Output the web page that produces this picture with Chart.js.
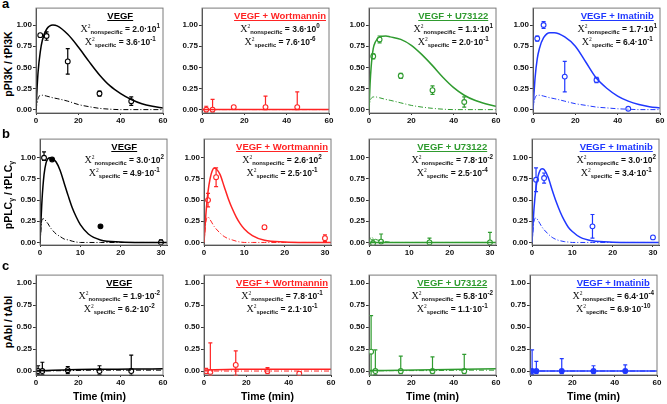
<!DOCTYPE html>
<html>
<head>
<meta charset="utf-8">
<script src="https://cdn.jsdelivr.net/npm/chart.js@4"></script>
<style>
    body { margin: 0; width: 667px; height: 404px; background: #fff; position: relative; overflow: hidden; font-family: "Liberation Sans", Arial, sans-serif; }
    canvas { position: absolute; }
    .letter { position: absolute; font: bold 13px/13px "Liberation Sans", Arial, sans-serif; color: #000; }
    .ytitle { position: absolute; font: bold 10.5px/12px "Liberation Sans", Arial, sans-serif; white-space: nowrap; transform: translate(-50%, -50%) rotate(-90deg); }
    .ytitle sub { font-size: 7px; line-height: 1; vertical-align: -2px; }
    .xtitle { position: absolute; font: bold 10.5px/12px "Liberation Sans", Arial, sans-serif; white-space: nowrap; transform: translate(-50%, -50%); }
    .note { position: absolute; text-align: center; font: bold 8.5px/13.5px "Liberation Sans", Arial, sans-serif; white-space: nowrap; color: #111; }
    .note .ttl { font-size: 9.5px; text-decoration: underline; }
    .note .x { font-family: "Liberation Serif", serif; font-weight: normal; font-size: 10px; line-height: 1; }
    .note .two { font-family: "Liberation Serif", serif; font-weight: normal; font-size: 5.5px; line-height: 1; vertical-align: 4px; }
    .note .sub { font-size: 5.8px; line-height: 1; vertical-align: -2px; }
    .note .sup { font-size: 6.3px; line-height: 1; vertical-align: 4px; }
</style>
</head>
<body>
<script>
const TREATMENTS = ['VEGF', 'VEGF + Wortmannin', 'VEGF + U73122', 'VEGF + Imatinib']
const COLORS = ['#000000', '#ff2424', '#2f9b2f', '#2038ff']

// sampling times (min)
const TIME_PI3K = [2, 5, 15, 30, 45]
const TIME_PLC = [1, 3, 15, 30]
const TIME_ABL = [1, 3, 15, 30, 45]

// times the model curves were read at
const CURVE_T_PI3K = [0, 0.5, 1, 2, 3, 5, 8, 10, 15, 20, 25, 30, 35, 40, 45, 50, 55, 60]
const CURVE_T_PLC = [0, 0.5, 1, 1.5, 2, 2.5, 3, 4, 5, 6, 7, 8, 9, 10, 12, 15, 20, 25, 31.5]
const CURVE_T_ABL = [0, 15, 30, 45, 60]

// a: pPI3K / tPI3K
const PI3K_MEAN = [
    [0.88, 0.87, 0.57, 0.19, 0.10],
    [0.00, 0.00, 0.03, 0.03, 0.03],
    [0.63, 0.83, 0.40, 0.23, 0.09],
    [0.84, 1.00, 0.39, 0.35, 0.01]
]
const PI3K_ERR_UP = [
    [0.01, 0.05, 0.15, 0.03, 0.05],
    [0.04, 0.12, 0.01, 0.13, 0.18],
    [0.03, 0.04, 0.03, 0.05, 0.06],
    [0.03, 0.04, 0.18, 0.03, 0.01]
]
const PI3K_ERR_DN = [
    [0.01, 0.05, 0.15, 0.03, 0.05],
    [0.03, 0.03, 0.01, 0.03, 0.03],
    [0.03, 0.04, 0.03, 0.05, 0.06],
    [0.03, 0.04, 0.18, 0.03, 0.01]
]
const PI3K_FIT = [
    [0, 0.25, 0.45, 0.68, 0.82, 0.95, 1.0, 0.99, 0.89, 0.74, 0.57, 0.41, 0.28, 0.19, 0.12, 0.07, 0.04, 0.02],
    [0, 0, 0, 0, 0, 0, 0, 0, 0, 0, 0, 0, 0, 0, 0, 0, 0, 0],
    [0, 0.3, 0.5, 0.72, 0.8, 0.86, 0.87, 0.86, 0.83, 0.76, 0.65, 0.52, 0.38, 0.26, 0.17, 0.11, 0.07, 0.04],
    [0, 0.2, 0.38, 0.6, 0.72, 0.85, 0.91, 0.91, 0.86, 0.75, 0.56, 0.37, 0.25, 0.16, 0.1, 0.06, 0.035, 0.02]
]
const PI3K_SPEC = [
    [0, 0.08, 0.13, 0.17, 0.17, 0.16, 0.14, 0.13, 0.1, 0.06, 0.035, 0.015, 0.005, 0, 0, 0, 0, 0],
    [0, 0, 0, 0, 0, 0, 0, 0, 0, 0, 0, 0, 0, 0, 0, 0, 0, 0],
    [0, 0.1, 0.13, 0.15, 0.15, 0.14, 0.12, 0.11, 0.08, 0.05, 0.03, 0.015, 0.005, 0, 0, 0, 0, 0],
    [0, 0.09, 0.14, 0.17, 0.17, 0.16, 0.14, 0.13, 0.1, 0.07, 0.05, 0.03, 0.02, 0.01, 0.005, 0, 0, 0]
]
const PI3K_CHI_N = [['2.0', '1'], ['3.6', '0'], ['1.1', '1'], ['1.7', '1']]
const PI3K_CHI_S = [['3.6', '-1'], ['7.6', '-6'], ['2.0', '-1'], ['6.4', '-1']]

// b: pPLCγ / tPLCγ
const PLC_MEAN = [
    [1.00, 0.98, 0.19, 0.00],
    [0.50, 0.77, 0.18, 0.05],
    [-0.01, 0.01, 0.00, 0.00],
    [0.74, 0.76, 0.19, 0.06]
]
const PLC_ERR_UP = [
    [0.07, 0.01, 0.01, 0.03],
    [0.08, 0.11, 0.02, 0.04],
    [0.04, 0.09, 0.05, 0.12],
    [0.14, 0.06, 0.14, 0.02]
]
const PLC_ERR_DN = [
    [0.03, 0.01, 0.01, 0.01],
    [0.08, 0.11, 0.02, 0.04],
    [0.02, 0.02, 0.03, 0.02],
    [0.14, 0.06, 0.14, 0.02]
]
const PLC_FIT = [
    [0, 0.5, 0.8, 0.94, 0.99, 1.0, 0.99, 0.95, 0.85, 0.7, 0.55, 0.41, 0.3, 0.21, 0.1, 0.03, 0.005, 0, 0],
    [0, 0.35, 0.6, 0.75, 0.84, 0.88, 0.87, 0.8, 0.66, 0.52, 0.4, 0.3, 0.22, 0.16, 0.08, 0.025, 0.005, 0, 0],
    [0, 0, 0, 0, 0, 0, 0, 0, 0, 0, 0, 0, 0, 0, 0, 0, 0, 0, 0],
    [0, 0.4, 0.65, 0.78, 0.85, 0.87, 0.86, 0.77, 0.62, 0.48, 0.36, 0.26, 0.18, 0.13, 0.06, 0.02, 0.003, 0, 0]
]
const PLC_SPEC = [
    [0, 0.27, 0.28, 0.25, 0.22, 0.18, 0.15, 0.1, 0.07, 0.04, 0.03, 0.015, 0.005, 0, 0, 0, 0, 0, 0],
    [0, 0.25, 0.3, 0.27, 0.23, 0.19, 0.16, 0.11, 0.07, 0.045, 0.03, 0.015, 0.005, 0, 0, 0, 0, 0, 0],
    [0, 0.06, 0.05, 0.04, 0.03, 0.025, 0.02, 0.01, 0.005, 0, 0, 0, 0, 0, 0, 0, 0, 0, 0],
    [0, 0.25, 0.29, 0.26, 0.22, 0.18, 0.15, 0.1, 0.06, 0.035, 0.02, 0.01, 0.005, 0, 0, 0, 0, 0, 0]
]
const PLC_CHI_N = [['3.0', '2'], ['2.6', '2'], ['7.8', '-2'], ['3.0', '2']]
const PLC_CHI_S = [['4.9', '-1'], ['2.5', '-1'], ['2.5', '-4'], ['3.4', '-1']]

// c: pAbl / tAbl
const ABL_MEAN = [
    [0.00, 0.00, 0.01, 0.00, 0.00],
    [0.00, -0.01, 0.07, 0.00, -0.03],
    [0.22, 0.00, 0.00, 0.00, 0.00],
    [0.00, 0.00, 0.00, 0.00, 0.00]
]
const ABL_ERR_UP = [
    [0.06, 0.10, 0.04, 0.06, 0.18],
    [0.03, 0.33, 0.16, 0.04, 0.02],
    [0.41, 0.24, 0.17, 0.16, 0.19],
    [0.24, 0.11, 0.14, 0.06, 0.07]
]
const ABL_ERR_DN = [
    [0.04, 0.04, 0.04, 0.04, 0.05],
    [0.03, 0.04, 0.12, 0.03, 0.02],
    [0.27, 0.04, 0.03, 0.03, 0.03],
    [0.04, 0.03, 0.03, 0.03, 0.02]
]
const ABL_FIT = [
    [0, 0.015, 0.02, 0.022, 0.025],
    [0.01, 0.02, 0.02, 0.02, 0.02],
    [0.005, 0.01, 0.015, 0.02, 0.025],
    [0, 0, 0, 0, 0]
]
const ABL_SPEC = [
    [0, 0.005, 0.01, 0.01, 0.01],
    [0, 0, 0, 0, 0],
    [0, 0.005, 0.005, 0.01, 0.01],
    [0, 0, 0, 0, 0]
]
const ABL_CHI_N = [['1.9', '-2'], ['7.8', '-1'], ['5.8', '-2'], ['6.4', '-4']]
const ABL_CHI_S = [['6.2', '-2'], ['2.1', '-1'], ['1.1', '-1'], ['6.9', '-10']]

// which markers are drawn solid
const PLC_FILLED = [[0, 1, 1, 0], [0, 0, 0, 0], [0, 0, 0, 0], [0, 0, 0, 0]]
const ABL_FILLED = [[0, 0, 0, 0, 0], [0, 0, 0, 0, 0], [0, 0, 0, 0, 0], [1, 1, 1, 1, 1]]

const ROWS = [
    {
        'letter': 'a', 'ytitle': 'pPI3K / tPI3K', 'top': 6, 'height': 107, 'lefts': [36, 202, 369, 533],
        'ymin': -0.04, 'ymax': 1.2, 'xmax': 60, 'xticks': [0, 20, 40, 60],
        't': TIME_PI3K, 'ct': CURVE_T_PI3K, 'mean': PI3K_MEAN, 'up': PI3K_ERR_UP, 'dn': PI3K_ERR_DN,
        'fit': PI3K_FIT, 'spec': PI3K_SPEC, 'chiN': PI3K_CHI_N, 'chiS': PI3K_CHI_S, 'filled': null
    },
    {
        'letter': 'b', 'ytitle': 'pPLC<sub>γ</sub> / tPLC<sub>γ</sub>', 'top': 137, 'height': 108, 'lefts': [40, 204, 369, 532],
        'ymin': -0.03, 'ymax': 1.22, 'xmax': 31.5, 'xticks': [0, 10, 20, 30],
        't': TIME_PLC, 'ct': CURVE_T_PLC, 'mean': PLC_MEAN, 'up': PLC_ERR_UP, 'dn': PLC_ERR_DN,
        'fit': PLC_FIT, 'spec': PLC_SPEC, 'chiN': PLC_CHI_N, 'chiS': PLC_CHI_S, 'filled': PLC_FILLED
    },
    {
        'letter': 'c', 'ytitle': 'pAbl / tAbl', 'top': 273, 'height': 102, 'lefts': [36, 204, 369, 530],
        'ymin': -0.045, 'ymax': 1.09, 'xmax': 60, 'xticks': [0, 20, 40, 60],
        't': TIME_ABL, 'ct': CURVE_T_ABL, 'mean': ABL_MEAN, 'up': ABL_ERR_UP, 'dn': ABL_ERR_DN,
        'fit': ABL_FIT, 'spec': ABL_SPEC, 'chiN': ABL_CHI_N, 'chiS': ABL_CHI_S, 'filled': ABL_FILLED
    }
]
const LETTER_TOPS = [-3.5, 127, 258.5]
const YTITLE_CENTERS = [64, 195, 322]
const PLOT_W = 127
const Y_AXIS_W = 28
const X_AXIS_H = 14
const PAD_TOP = 3
const PAD_RIGHT = 10

Chart.defaults.font.family = '"Liberation Sans", Arial, sans-serif'

// vertical error bars with caps, drawn under the markers
const errorBars = {
    'id': 'errorBars',
    beforeDatasetDraw(chart, args) {
        let ds = chart.data.datasets[args.index]
        if (!ds.errUp) return
        let ctx = chart.ctx
        let xs = chart.scales.x, ys = chart.scales.y
        ctx.save()
        ctx.strokeStyle = ds.borderColor
        ctx.lineWidth = 1.2
        ds.data.forEach((p, i) => {
            let px = xs.getPixelForValue(p.x)
            let top = ys.getPixelForValue(p.y + ds.errUp[i])
            let bot = ys.getPixelForValue(p.y - ds.errDn[i])
            ctx.beginPath()
            ctx.moveTo(px, top); ctx.lineTo(px, bot)
            ctx.moveTo(px - 2, top); ctx.lineTo(px + 2, top)
            ctx.moveTo(px - 2, bot); ctx.lineTo(px + 2, bot)
            ctx.stroke()
        })
        ctx.restore()
    }
}

// grey box round the plot area
const frame = {
    'id': 'frame',
    afterDraw(chart) {
        let a = chart.chartArea
        let ctx = chart.ctx
        ctx.save()
        ctx.strokeStyle = '#7a7a7a'
        ctx.lineWidth = 1
        ctx.strokeRect(a.left, a.top, a.right - a.left, a.bottom - a.top)
        ctx.restore()
    }
}

function add_div(cls, html, style) {
    let d = document.createElement('div')
    d.className = cls
    d.innerHTML = html
    Object.assign(d.style, style)
    document.body.appendChild(d)
    return d
}

function chi_line(label, pair) {
    return `<div><span class="x">X</span><span class="two">2</span><span class="sub">${label}</span> = ${pair[0]}·10<span class="sup">${pair[1]}</span></div>`
}

function draw_panel(row, col) {
    let left = row.lefts[col]
    let color = COLORS[col]
    let canvas = document.createElement('canvas')
    let w = Y_AXIS_W + PLOT_W + PAD_RIGHT
    let h = PAD_TOP + row.height + X_AXIS_H
    canvas.width = w
    canvas.height = h
    canvas.style.left = (left - Y_AXIS_W) + 'px'
    canvas.style.top = (row.top - PAD_TOP) + 'px'
    canvas.style.width = w + 'px'
    canvas.style.height = h + 'px'
    document.body.appendChild(canvas)

    let fit = row.ct.map((t, i) => ({ 'x': t, 'y': row.fit[col][i] }))
    let spec = row.ct.map((t, i) => ({ 'x': t, 'y': row.spec[col][i] }))
    let pts = row.t.map((t, i) => ({ 'x': t, 'y': row.mean[col][i] }))
    let fills = row.t.map((t, i) => (row.filled && row.filled[col][i]) ? color : '#ffffff')

    let tick_font = { 'size': 8, 'weight': 'bold' }
    new Chart(canvas.getContext('2d'), {
        'type': 'scatter',
        'data': {
            'datasets': [{
                'data': spec,
                'showLine': true,
                'borderColor': color,
                'borderWidth': 1,
                'borderDash': [5, 2, 1, 2],
                'pointRadius': 0,
                'cubicInterpolationMode': 'monotone'
            }, {
                'data': fit,
                'showLine': true,
                'borderColor': color,
                'borderWidth': 1.5,
                'pointRadius': 0,
                'cubicInterpolationMode': 'monotone'
            }, {
                'data': pts,
                'showLine': false,
                'borderColor': color,
                'backgroundColor': fills,
                'pointBackgroundColor': fills,
                'pointBorderColor': color,
                'pointBorderWidth': 1.1,
                'pointRadius': 2.4,
                'errUp': row.up[col],
                'errDn': row.dn[col]
            }]
        },
        'options': {
            'responsive': false,
            'animation': false,
            'devicePixelRatio': 1,
            'layout': { 'padding': { 'top': PAD_TOP, 'right': PAD_RIGHT, 'left': 0, 'bottom': 0 } },
            'plugins': { 'legend': { 'display': false }, 'tooltip': { 'enabled': false } },
            'scales': {
                'x': {
                    'type': 'linear',
                    'min': 0,
                    'max': row.xmax,
                    'afterBuildTicks': s => { s.ticks = row.xticks.map(v => ({ 'value': v })) },
                    'afterFit': s => { s.height = X_AXIS_H; s.paddingLeft = 0; s.paddingRight = 0 },
                    'grid': { 'drawOnChartArea': false, 'tickLength': 2, 'color': '#333' },
                    'border': { 'color': '#333', 'width': 1 },
                    'ticks': { 'font': tick_font, 'color': '#111', 'padding': 1, 'maxRotation': 0, 'autoSkip': false }
                },
                'y': {
                    'type': 'linear',
                    'min': row.ymin,
                    'max': row.ymax,
                    'afterBuildTicks': s => { s.ticks = [0, 0.25, 0.5, 0.75, 1].map(v => ({ 'value': v })) },
                    'afterFit': s => { s.width = Y_AXIS_W; s.paddingTop = 0; s.paddingBottom = 0 },
                    'grid': { 'drawOnChartArea': false, 'tickLength': 3, 'color': '#333' },
                    'border': { 'color': '#333', 'width': 1 },
                    'ticks': { 'font': tick_font, 'color': '#111', 'padding': 1, 'autoSkip': false, 'callback': v => v.toFixed(2) }
                }
            }
        },
        'plugins': [errorBars, frame]
    })

    // annotation block in the top right corner
    let html = `<div class="ttl" style="color:${color}">${TREATMENTS[col]}</div>` +
        chi_line('nonspecific', row.chiN[col]) + chi_line('specific', row.chiS[col])
    add_div('note', html, { 'right': (667 - (left + PLOT_W) + 3) + 'px', 'top': (row.top + 3) + 'px' })
}

ROWS.forEach((row, r) => {
    add_div('letter', row.letter, { 'left': '2px', 'top': LETTER_TOPS[r] + 'px' })
    add_div('ytitle', row.ytitle, { 'left': '8px', 'top': YTITLE_CENTERS[r] + 'px' })
    for (let c = 0; c < 4; c++) {
        draw_panel(row, c)
        if (r === 2) {
            add_div('xtitle', 'Time (min)', { 'left': (row.lefts[c] + PLOT_W / 2) + 'px', 'top': '396px' })
        }
    }
})
</script>
</body>
</html>
